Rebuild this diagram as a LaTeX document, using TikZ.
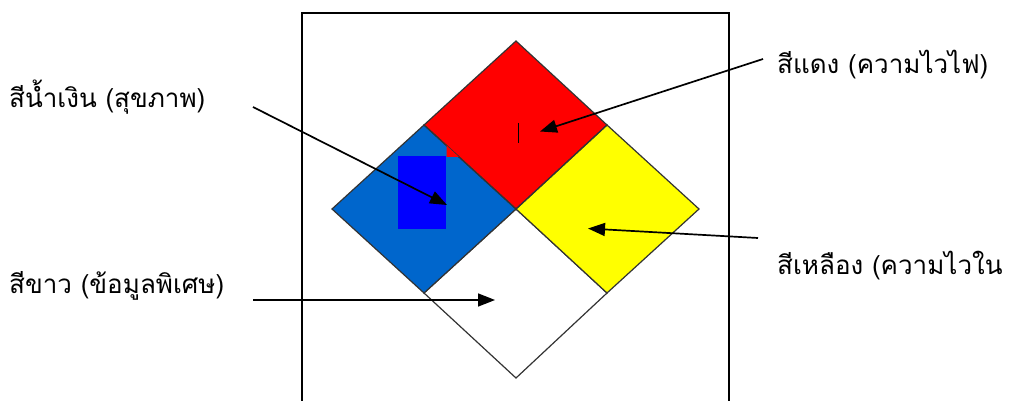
\documentclass[tikz,border=0pt]{standalone}
\usepackage{fontspec}
\newfontfamily\thaifont[Script=Thai]{Loma}
\usetikzlibrary{arrows.meta}
\definecolor{nfpablue}{RGB}{0,102,204}
\definecolor{patchblue}{RGB}{0,0,255}
\definecolor{nfpared}{RGB}{255,0,0}
\definecolor{nfpayellow}{RGB}{255,255,0}
\begin{document}
\begin{tikzpicture}[x=1pt,y=-1pt,
  lbl/.style={font=\thaifont\fontsize{26}{30}\selectfont, anchor=west, inner sep=0pt},
  pointer/.style={line width=1.7pt, -{Triangle[length=17pt,width=13pt]}},
  quad/.style={draw=black!80, line width=1.2pt, line join=miter}]
\useasboundingbox (0,0) rectangle (1013,401);
% frame
\draw[line width=2pt] (302,402) -- (302,13) -- (729,13) -- (729,402);
% diamond corners
\coordinate (T) at (516,41);
\coordinate (L) at (332,209);
\coordinate (R) at (699,209);
\coordinate (B) at (516,378);
\coordinate (C) at (516,209);
\coordinate (TL) at (424,125);
\coordinate (TR) at (607,125);
\coordinate (BL) at (424,293);
\coordinate (BR) at (607,293);
\fill[white] (C) -- (BL) -- (B) -- (BR) -- cycle;
\draw[quad] (C) -- (BL) -- (B) -- (BR) -- cycle;
\fill[nfpablue] (TL) -- (L) -- (BL) -- (C) -- cycle;
\fill[nfpayellow] (TR) -- (C) -- (BR) -- (R) -- cycle;
\fill[nfpared] (T) -- (TL) -- (C) -- (TR) -- cycle;
\draw[quad] (TL) -- (L) -- (BL) -- (C) -- cycle;
\draw[quad] (TR) -- (C) -- (BR) -- (R) -- cycle;
\draw[quad] (T) -- (TL) -- (C) -- (TR) -- cycle;
% blue patch and red notch
\fill[patchblue] (398,156) rectangle (446,229);
\fill[nfpared] (446.5,145.5) -- (446.5,157) -- (459,157) -- cycle;
\draw[line width=0.8pt] (518.5,123) -- (518.5,143);
% labels
\node[lbl] (blueL) at (9,97) {สีน้ำเงิน (สุขภาพ)};
\node[lbl] (whiteL) at (9,286) {สีขาว (ข้อมูลพิเศษ)};
\node[lbl] (redL) at (777,65) {สีแดง (ความไวไฟ)};
\node[lbl] (yellowL) at (777,266) {สีเหลือง (ความไวใน};
% arrow ends
\coordinate (blueS) at (253,107);
\coordinate (blueE) at (447,205);
\coordinate (whiteS) at (253,300);
\coordinate (whiteE) at (495,300);
\coordinate (redS) at (763,59);
\coordinate (redE) at (540,131.5);
\coordinate (yellowS) at (758,238);
\coordinate (yellowE) at (588,228.5);
\draw[pointer] (blueS) -- (blueE);
\draw[pointer] (whiteS) -- (whiteE);
\draw[pointer] (redS) -- (redE);
\draw[pointer] (yellowS) -- (yellowE);
\end{tikzpicture}
\end{document}
